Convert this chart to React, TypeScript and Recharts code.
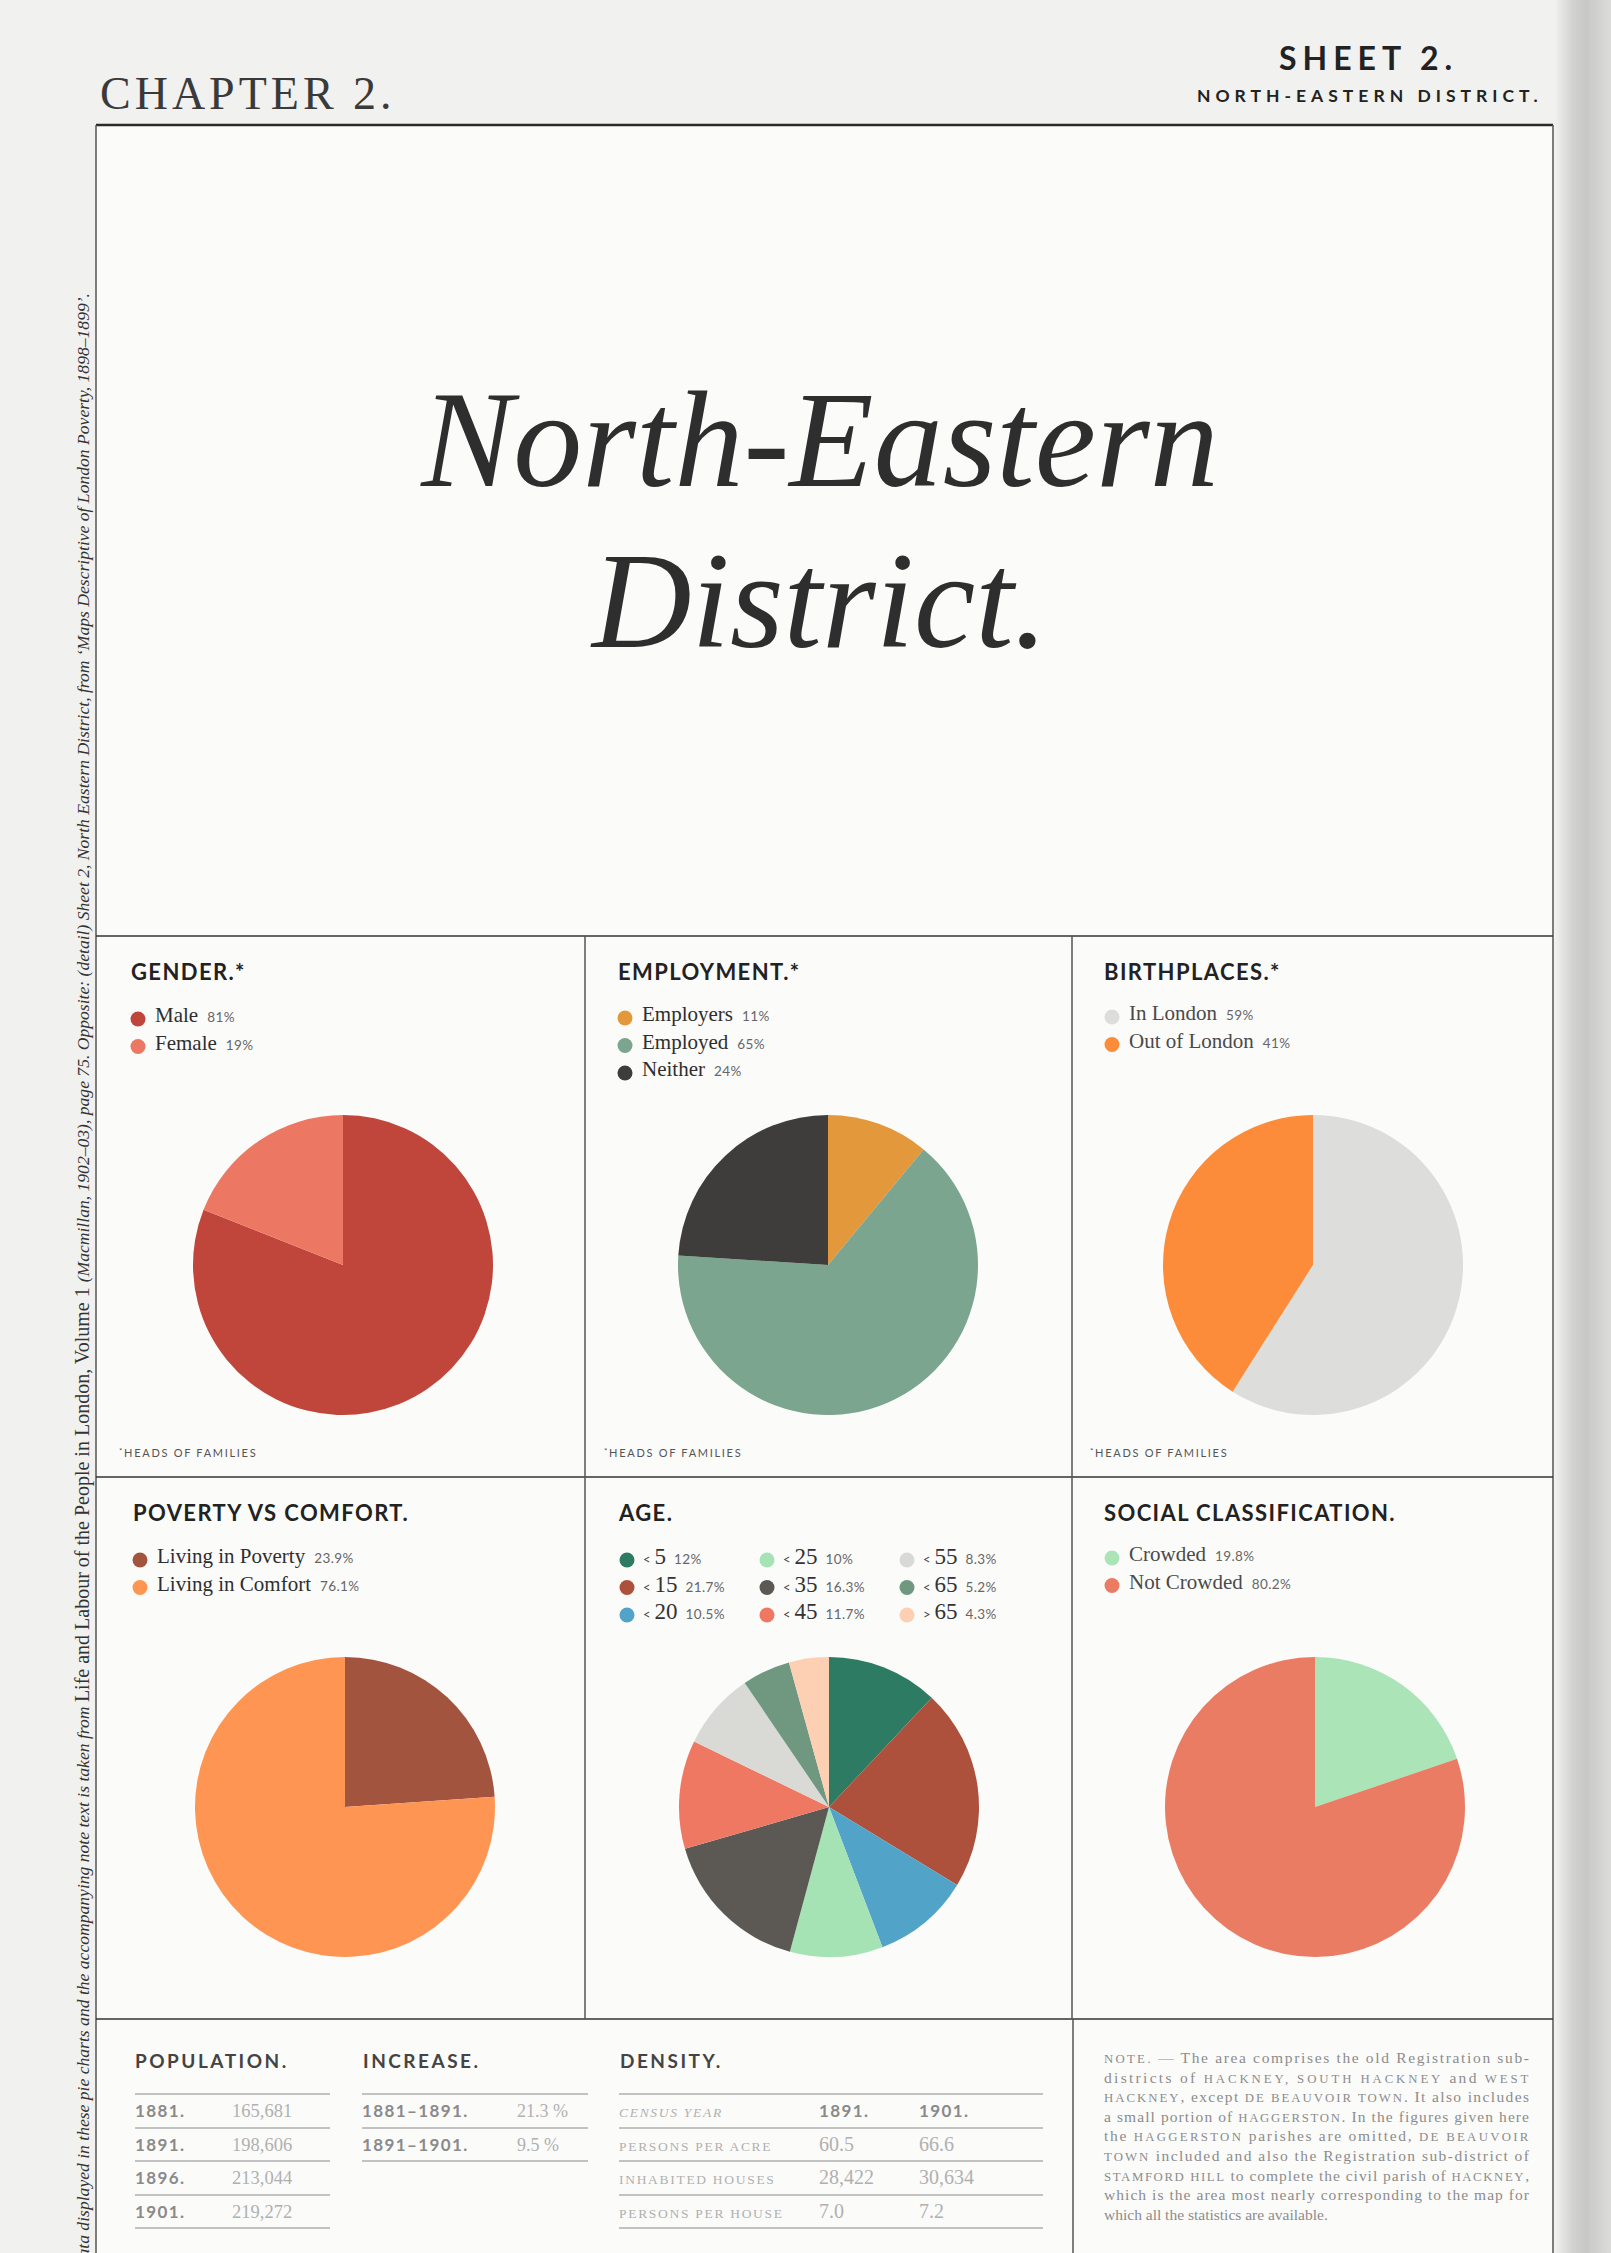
import React from "react";
import { PieChart, Pie, Cell } from "recharts";

// ---- data ----
const genderLabels = ["Male", "Female"];
const genderValues = [81, 19];
const genderColors = ["#c0463c", "#ec7864"];

const employmentLabels = ["Employers", "Employed", "Neither"];
const employmentValues = [11, 65, 24];
const employmentColors = ["#e3983b", "#7ba58f", "#3e3d3c"];

const birthLabels = ["In London", "Out of London"];
const birthValues = [59, 41];
const birthColors = ["#dddddb", "#fc8b3a"];

const povertyLabels = ["Living in Poverty", "Living in Comfort"];
const povertyValues = [23.9, 76.1];
const povertyColors = ["#a3543f", "#fe9552"];

const ageLabels = ["< 5", "< 15", "< 20", "< 25", "< 35", "< 45", "< 55", "< 65", "> 65"];
const ageValues = [12, 21.7, 10.5, 10, 16.3, 11.7, 8.3, 5.2, 4.3];
const ageColors = ["#2d7b62", "#ad503c", "#52a3c8", "#a6e3b4", "#5c5955", "#ee7862", "#d9d9d6", "#709880", "#fdd0b4"];

const socialLabels = ["Crowded", "Not Crowded"];
const socialValues = [19.8, 80.2];
const socialColors = ["#aae4b7", "#eb7c64"];

const populationYears = ["1881.", "1891.", "1896.", "1901."];
const populationValues = ["165,681", "198,606", "213,044", "219,272"];

const increasePeriods = ["1881–1891.", "1891–1901."];
const increaseValues = ["21.3 %", "9.5 %"];

const densityRows = ["PERSONS PER ACRE", "INHABITED HOUSES", "PERSONS PER HOUSE"];
const densityYears = ["1891.", "1901."];
const density1891 = ["60.5", "28,422", "7.0"];
const density1901 = ["66.6", "30,634", "7.2"];

const noteLines = [
  ["NOTE.", " — The area comprises the old Registration sub-"],
  ["districts of ", "HACKNEY, SOUTH HACKNEY", " and ", "WEST"],
  ["HACKNEY", ", except ", "DE BEAUVOIR TOWN", ". It also includes"],
  ["a small portion of ", "HAGGERSTON", ". In the figures given here"],
  ["the ", "HAGGERSTON", " parishes are omitted, ", "DE BEAUVOIR"],
  ["TOWN", " included and also the Registration sub-district of"],
  ["STAMFORD HILL", " to complete the civil parish of ", "HACKNEY", ","],
  ["which is the area most nearly corresponding to the map for"],
  ["which all the statistics are available."],
];

const SERIF = "'Liberation Serif', 'DejaVu Serif', serif";
const SANS = "Lato, 'Open Sans', sans-serif";

type PieProps = { labels: string[]; values: number[]; colors: string[]; cx: number; cy: number };

const PieBlock = ({ labels, values, colors, cx, cy }: PieProps) => {
  const data = labels.map((name, i) => ({ name, value: values[i] }));
  return (
    <div style={{ position: "absolute", left: cx - 160, top: cy - 160 }}>
      <PieChart width={320} height={320} margin={{ top: 0, right: 0, bottom: 0, left: 0 }}>
        <Pie
          data={data}
          dataKey="value"
          nameKey="name"
          cx={160}
          cy={160}
          innerRadius={0}
          outerRadius={150}
          startAngle={90}
          endAngle={-270}
          stroke="none"
          isAnimationActive={false}
        >
          {data.map((d, i) => (
            <Cell key={d.name} fill={colors[i]} />
          ))}
        </Pie>
      </PieChart>
    </div>
  );
};

type LegendProps = { labels: string[]; values: number[]; colors: string[]; x: number; y: number; ink?: string };

const LegendRows = ({ labels, values, colors, x, y, ink = "#2e2e2e" }: LegendProps) => (
  <g>
    {labels.map((l, i) => (
      <g key={l}>
        <circle cx={x} cy={y + i * 27.5} r={7.5} fill={colors[i]} />
        <text x={x + 17} y={y + i * 27.5 + 3} fontFamily={SERIF} fontSize={21} fill={ink}>
          {l}
          <tspan dx={9} fontFamily={SANS} fontSize={13.5} fill="#666" letterSpacing={0.4}>
            {values[i]}%
          </tspan>
        </text>
      </g>
    ))}
  </g>
);

const AgeLegend = ({ x, y }: { x: number; y: number }) => (
  <g>
    {ageLabels.map((l, i) => {
      const col = Math.floor(i / 3);
      const row = i % 3;
      const cx = x + col * 140;
      const cy = y + row * 27.5;
      const [sym, num] = l.split(" ");
      return (
        <g key={l}>
          <circle cx={cx} cy={cy} r={7.5} fill={ageColors[i]} />
          <text x={cx + 16} y={cy + 4} fill="#444">
            <tspan fontFamily={SANS} fontSize={13}>{sym}</tspan>
            <tspan dx={4} fontFamily={SERIF} fontSize={23} fill="#333">{num}</tspan>
            <tspan dx={8} fontFamily={SANS} fontSize={13.5} fill="#666" letterSpacing={0.4}>
              {ageValues[i]}%
            </tspan>
          </text>
        </g>
      );
    })}
  </g>
);

const PanelTitle = ({ x, y, children }: { x: number; y: number; children: React.ReactNode }) => (
  <text x={x} y={y} fontFamily={SANS} fontWeight={700} fontSize={22} letterSpacing={1.4} fill="#222">
    {children}
  </text>
);

const Heads = ({ x }: { x: number }) => (
  <text x={x} y={1457} fontFamily={SANS} fontSize={11} letterSpacing={1.7} fill="#555">
    <tspan fontSize={8} dy={-3}>*</tspan>
    <tspan dy={3}>HEADS OF FAMILIES</tspan>
  </text>
);

const isCaps = (s: string) => s.trim().length > 0 && s === s.toUpperCase() && /[A-Z]/.test(s);

export default function App() {
  const rowsY = [2117, 2151, 2184, 2218];
  const lineY = [2094, 2128, 2161, 2195, 2228];
  return (
    <div style={{ position: "absolute", left: 0, top: 0, width: 1611, height: 2253, overflow: "hidden", background: "#f1f1ef" }}>
      <svg width={1611} height={2253} style={{ position: "absolute", left: 0, top: 0 }}>
        <defs>
          <linearGradient id="gutter" x1="0" y1="0" x2="1" y2="0">
            <stop offset="0%" stopColor="#efefed" />
            <stop offset="30%" stopColor="#d2d2d0" />
            <stop offset="55%" stopColor="#c8c8c6" />
            <stop offset="100%" stopColor="#dcdcda" />
          </linearGradient>
        </defs>
        <rect x={0} y={0} width={1611} height={2253} fill="#f1f1ef" />
        <rect x={96} y={125} width={1457} height={2128} fill="#fbfbfa" />
        <rect x={1556} y={0} width={55} height={2253} fill="url(#gutter)" />

        {/* header */}
        <text x={100} y={109} fontFamily={SERIF} fontSize={46} letterSpacing={4} fill="#3a3a3a">
          CHAPTER 2.
        </text>
        <text x={1279} y={70} fontFamily={SANS} fontWeight={700} fontSize={32} letterSpacing={6} fill="#222">
          SHEET 2.
        </text>
        <text x={1197} y={102} fontFamily={SANS} fontWeight={700} fontSize={17.5} letterSpacing={5} fill="#222">
          NORTH-EASTERN DISTRICT.
        </text>

        {/* big title */}
        <text x={820} y={486} textAnchor="middle" fontFamily={SERIF} fontStyle="italic" fontSize={138} fill="#2e2e2e">
          North-Eastern
        </text>
        <text x={820} y={647} textAnchor="middle" fontFamily={SERIF} fontStyle="italic" fontSize={138} fill="#2e2e2e">
          District.
        </text>

        {/* frame */}
        <line x1={96} y1={125} x2={1553} y2={125} stroke="#2a2a2a" strokeWidth={2.5} />
        <line x1={96} y1={125} x2={96} y2={2253} stroke="#555" strokeWidth={1.5} />
        <line x1={1553} y1={125} x2={1553} y2={2253} stroke="#555" strokeWidth={1.5} />
        <line x1={96} y1={936} x2={1553} y2={936} stroke="#333" strokeWidth={1.6} />
        <line x1={96} y1={1477} x2={1553} y2={1477} stroke="#333" strokeWidth={1.6} />
        <line x1={96} y1={2019} x2={1553} y2={2019} stroke="#333" strokeWidth={1.6} />
        <line x1={585} y1={936} x2={585} y2={2019} stroke="#555" strokeWidth={1.5} />
        <line x1={1072} y1={936} x2={1072} y2={2019} stroke="#555" strokeWidth={1.5} />
        <line x1={1073} y1={2019} x2={1073} y2={2253} stroke="#555" strokeWidth={1.5} />

        {/* panel titles */}
        <PanelTitle x={131} y={980}>GENDER.*</PanelTitle>
        <PanelTitle x={618} y={980}>EMPLOYMENT.*</PanelTitle>
        <PanelTitle x={1104} y={980}>BIRTHPLACES.*</PanelTitle>
        <PanelTitle x={133} y={1521}>POVERTY VS COMFORT.</PanelTitle>
        <PanelTitle x={619} y={1521}>AGE.</PanelTitle>
        <PanelTitle x={1104} y={1521}>SOCIAL CLASSIFICATION.</PanelTitle>

        {/* legends */}
        <LegendRows labels={genderLabels} values={genderValues} colors={genderColors} x={138} y={1019} />
        <LegendRows labels={employmentLabels} values={employmentValues} colors={employmentColors} x={625} y={1018} />
        <LegendRows labels={birthLabels} values={birthValues} colors={birthColors} x={1112} y={1017} ink="#4a4a4a" />
        <LegendRows labels={povertyLabels} values={povertyValues} colors={povertyColors} x={140} y={1560} />
        <AgeLegend x={627} y={1560} />
        <LegendRows labels={socialLabels} values={socialValues} colors={socialColors} x={1112} y={1558} ink="#4a4a4a" />

        <Heads x={119} />
        <Heads x={604} />
        <Heads x={1090} />

        {/* bottom tables */}
        <text x={135} y={2068} fontFamily={SANS} fontWeight={700} fontSize={19} letterSpacing={2.5} fill="#444">POPULATION.</text>
        <text x={363} y={2068} fontFamily={SANS} fontWeight={700} fontSize={19} letterSpacing={2.5} fill="#444">INCREASE.</text>
        <text x={620} y={2068} fontFamily={SANS} fontWeight={700} fontSize={19} letterSpacing={2.5} fill="#444">DENSITY.</text>

        {lineY.map((y) => (
          <line key={"p" + y} x1={135} y1={y} x2={330} y2={y} stroke="#8a8a8a" strokeWidth={1.2} />
        ))}
        {lineY.slice(0, 3).map((y) => (
          <line key={"i" + y} x1={362} y1={y} x2={588} y2={y} stroke="#8a8a8a" strokeWidth={1.2} />
        ))}
        {lineY.map((y) => (
          <line key={"d" + y} x1={619} y1={y} x2={1043} y2={y} stroke="#8a8a8a" strokeWidth={1.2} />
        ))}

        {populationYears.map((yr, i) => (
          <g key={yr}>
            <text x={135} y={rowsY[i]} fontFamily={SANS} fontWeight={700} fontSize={17} letterSpacing={1.4} fill="#8a8a8a">{yr}</text>
            <text x={232} y={rowsY[i]} fontFamily={SERIF} fontSize={18.5} fill="#b0b0b0">{populationValues[i]}</text>
          </g>
        ))}
        {increasePeriods.map((p, i) => (
          <g key={p}>
            <text x={362} y={rowsY[i]} fontFamily={SANS} fontWeight={700} fontSize={17} letterSpacing={1.4} fill="#8a8a8a">{p}</text>
            <text x={517} y={rowsY[i]} fontFamily={SERIF} fontSize={18} fill="#b0b0b0">{increaseValues[i]}</text>
          </g>
        ))}

        <text x={619} y={rowsY[0]} fontFamily={SERIF} fontStyle="italic" fontSize={13.5} letterSpacing={1.7} fill="#b0b0b0">CENSUS YEAR</text>
        {densityYears.map((yr, i) => (
          <text key={yr} x={819 + i * 100} y={rowsY[0]} fontFamily={SANS} fontWeight={700} fontSize={17} letterSpacing={1.4} fill="#8a8a8a">{yr}</text>
        ))}
        {densityRows.map((r, i) => (
          <g key={r}>
            <text x={619} y={rowsY[i + 1]} fontFamily={SERIF} fontSize={13.5} letterSpacing={1.7} fill="#b0b0b0">{r}</text>
            <text x={819} y={rowsY[i + 1]} fontFamily={SERIF} fontSize={20} fill="#b0b0b0">{density1891[i]}</text>
            <text x={919} y={rowsY[i + 1]} fontFamily={SERIF} fontSize={20} fill="#b0b0b0">{density1901[i]}</text>
          </g>
        ))}

        {/* note */}
        {noteLines.map((parts, i) => (
          <text
            key={i}
            x={1104}
            y={2063 + i * 19.6}
            fontFamily={SERIF}
            fontSize={15.5}
            fill="#8c8c8c"
            {...(i < noteLines.length - 1 ? { textLength: 425, lengthAdjust: "spacing" } : {})}
          >
            {parts.map((p, j) =>
              isCaps(p) ? (
                <tspan key={j} fontSize={12.8} letterSpacing={0.6}>{p}</tspan>
              ) : (
                <tspan key={j}>{p}</tspan>
              )
            )}
          </text>
        ))}

        {/* vertical credit */}
        <text transform="translate(89,293) rotate(-90)" x={0} y={0} textAnchor="end" fontFamily={SERIF} fontSize={17.6} fill="#333">
          <tspan fontStyle="italic">Data displayed in these pie charts and the accompanying note text is taken from </tspan>
          <tspan fontSize={20}>Life and Labour of the People in London, Volume 1 </tspan>
          <tspan fontStyle="italic">(Macmillan, 1902–03), page 75.  Opposite: (detail) Sheet 2, North Eastern District, from ‘Maps Descriptive of London Poverty, 1898–1899’.</tspan>
        </text>
      </svg>

      <PieBlock labels={genderLabels} values={genderValues} colors={genderColors} cx={343} cy={1265} />
      <PieBlock labels={employmentLabels} values={employmentValues} colors={employmentColors} cx={828} cy={1265} />
      <PieBlock labels={birthLabels} values={birthValues} colors={birthColors} cx={1313} cy={1265} />
      <PieBlock labels={povertyLabels} values={povertyValues} colors={povertyColors} cx={345} cy={1807} />
      <PieBlock labels={ageLabels} values={ageValues} colors={ageColors} cx={829} cy={1807} />
      <PieBlock labels={socialLabels} values={socialValues} colors={socialColors} cx={1315} cy={1807} />
    </div>
  );
}
